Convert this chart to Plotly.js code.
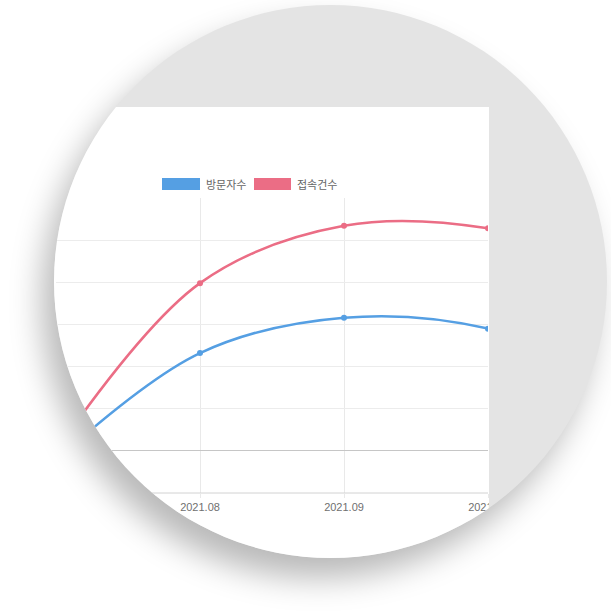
<!DOCTYPE html>
<html>
<head>
<meta charset="utf-8">
<script src="https://cdn.plot.ly/plotly-3.0.1.min.js"></script>
<style>
  html, body { margin: 0; padding: 0; background: #ffffff; }
  body { width: 611px; height: 611px; position: relative; overflow: hidden; }
  #circle {
    position: absolute; left: 54px; top: 5px; width: 553px; height: 553px;
    border-radius: 50%; overflow: hidden; background: #e4e4e4;
    box-shadow: -12px 20px 32px rgba(0, 0, 0, 0.28);
  }
  #chart { position: absolute; left: -54px; top: 102px; width: 489px; height: 493px; }
</style>
</head>
<body>
<div id="circle"><div id="chart"></div></div>
<script>
// months on the x axis (the last one is cut off by the picture)
var months = ['2021.07', '2021.08', '2021.09', '2021.10', '2021.11'];

// series names, in legend order
var seriesNames = ['방문자수', '접속건수'];

// values
var visitors = [-11, 116, 158, 145, 76];
var connections = [0, 199, 267, 264, 212];

var blue = '#559fe3';
var red = '#eb6d85';

// page pixel -> paper fraction, plot area is x 56..488, y 198..493 on the page
function px(x) { return (x - 56) / 432; }
function py(y) { return (493 - y) / 295; }

var traceVisitors = {
  x: months,
  y: visitors,
  name: seriesNames[0],
  type: 'scatter',
  mode: 'lines+markers',
  line: { color: blue, width: 2.5, shape: 'spline', smoothing: 1 },
  marker: { color: blue, size: 6 },
  cliponaxis: true
};

var traceConnections = {
  x: months,
  y: connections,
  name: seriesNames[1],
  type: 'scatter',
  mode: 'lines+markers',
  line: { color: red, width: 2.5, shape: 'spline', smoothing: 1 },
  marker: { color: red, size: 6 },
  cliponaxis: true
};

// hand drawn legend, boxes like the original chart
var legendShapes = [
  { type: 'rect', xref: 'paper', yref: 'paper', x0: px(162), x1: px(200), y0: py(190), y1: py(178),
    fillcolor: blue, line: { width: 0 } },
  { type: 'rect', xref: 'paper', yref: 'paper', x0: px(254), x1: px(291), y0: py(190), y1: py(178),
    fillcolor: red, line: { width: 0 } }
];

var legendText = [
  { xref: 'paper', yref: 'paper', x: px(204), y: py(184), xanchor: 'left', yanchor: 'middle',
    text: seriesNames[0], showarrow: false,
    font: { family: 'Noto Sans CJK KR', size: 11, color: '#666666' } },
  { xref: 'paper', yref: 'paper', x: px(295), y: py(184), xanchor: 'left', yanchor: 'middle',
    text: seriesNames[1], showarrow: false,
    font: { family: 'Noto Sans CJK KR', size: 11, color: '#666666' } }
];

var layout = {
  width: 489,
  height: 493,
  margin: { l: 56, r: 1, t: 91, b: 107 },
  paper_bgcolor: '#ffffff',
  plot_bgcolor: '#ffffff',
  showlegend: false,
  xaxis: {
    type: 'category',
    range: [0, 3],
    showgrid: true,
    gridcolor: '#e9e9e9',
    gridwidth: 1,
    showline: false,
    zeroline: false,
    ticks: 'outside',
    ticklen: 4,
    tickcolor: '#e9e9e9',
    tickfont: { family: 'Liberation Sans, Arial, sans-serif', size: 11, color: '#707070' }
  },
  yaxis: {
    range: [-50, 300],
    dtick: 50,
    showticklabels: false,
    showgrid: true,
    gridcolor: '#ececec',
    gridwidth: 1,
    zeroline: true,
    zerolinecolor: '#c6c6c6',
    zerolinewidth: 1,
    showline: false,
    ticks: ''
  },
  shapes: legendShapes.concat([
    { type: 'line', xref: 'paper', yref: 'paper', x0: 0, x1: 1, y0: 0, y1: 0,
      line: { color: '#d2d2d2', width: 1 } }
  ]),
  annotations: legendText
};

Plotly.newPlot('chart', [traceVisitors, traceConnections], layout, { staticPlot: true, displayModeBar: false });
</script>
</body>
</html>
